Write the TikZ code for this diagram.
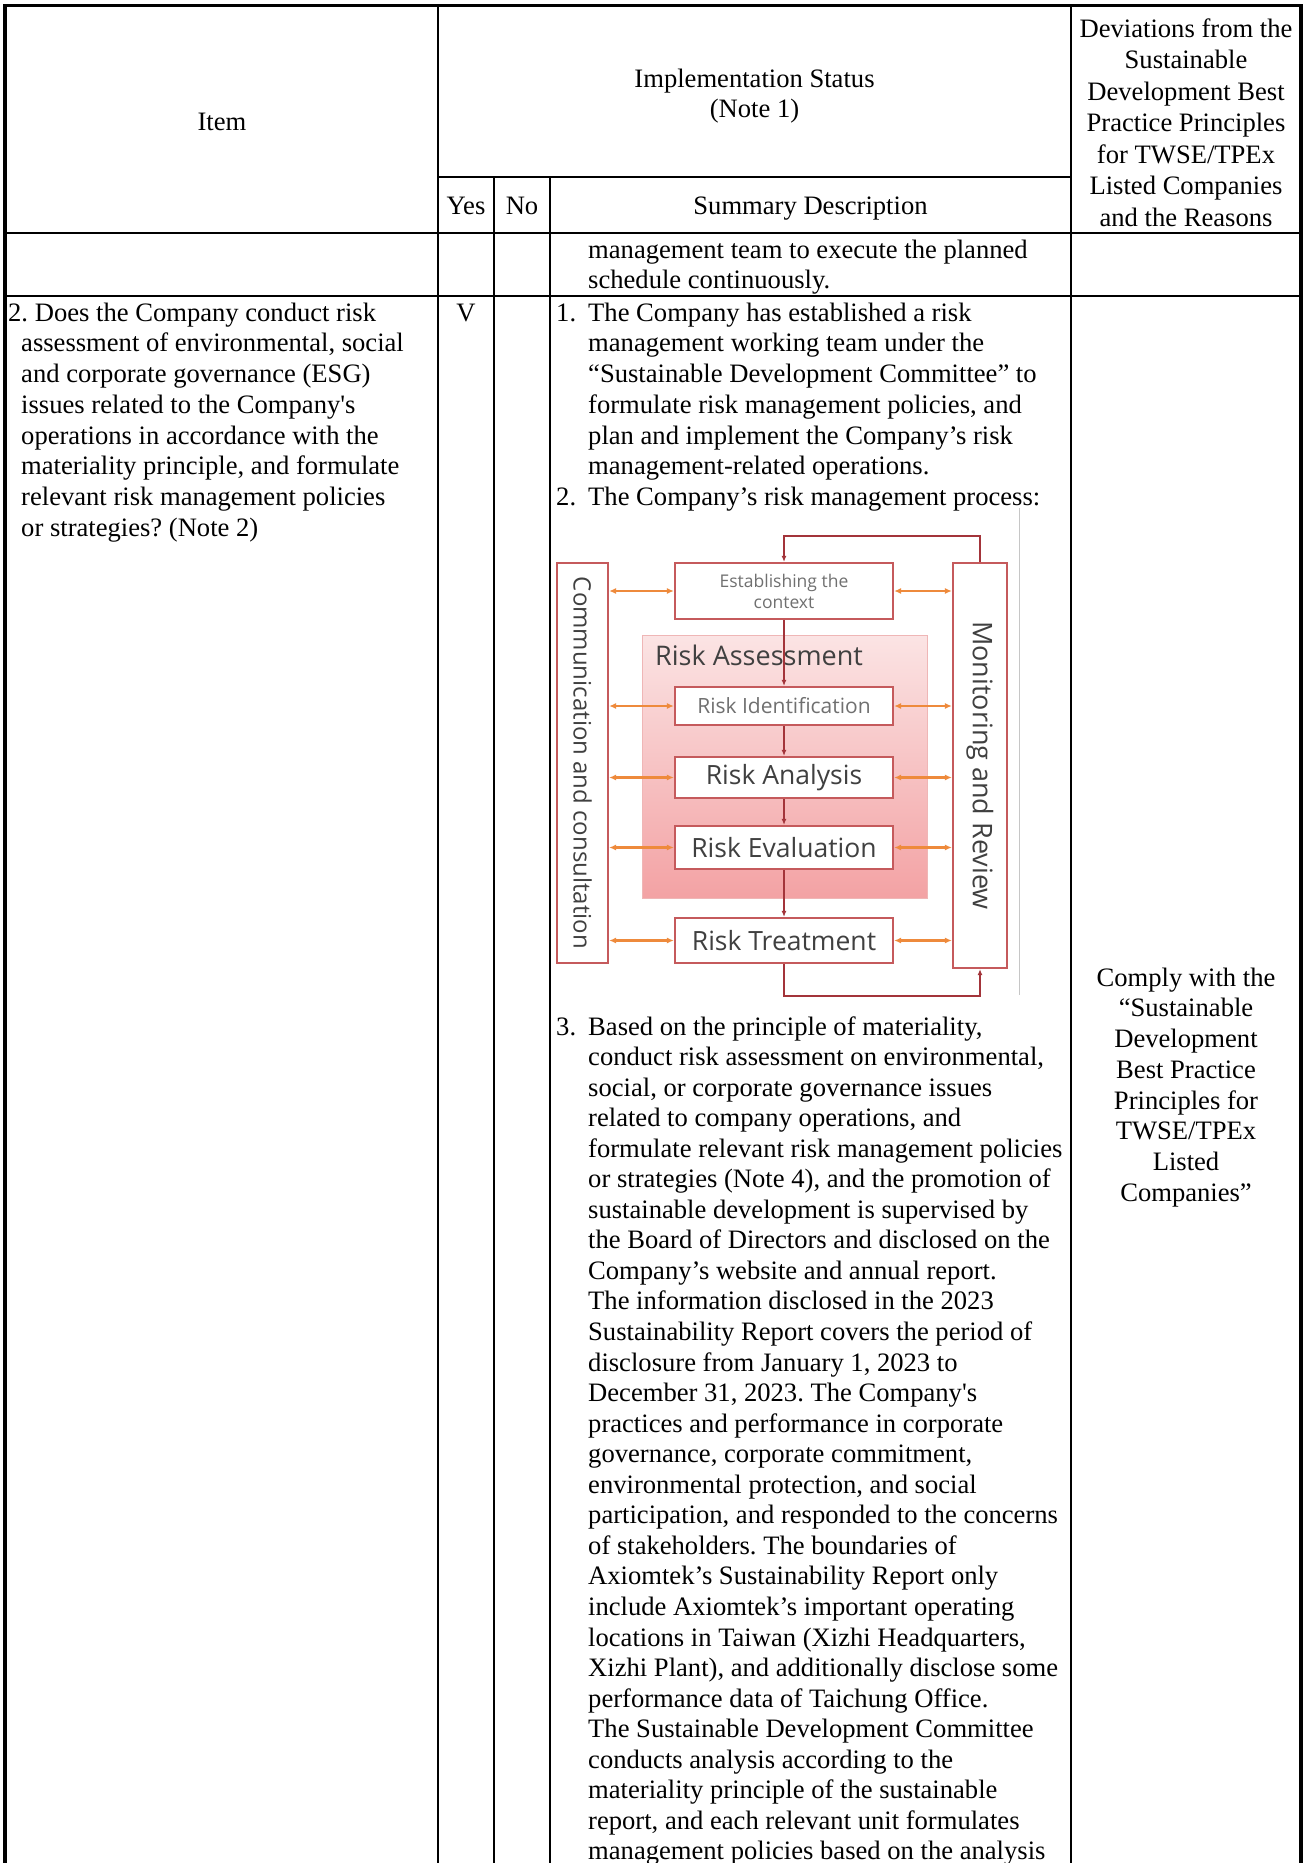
\documentclass[tikz,border=0pt]{standalone}
\usepackage{fontspec}
\setmainfont{Liberation Serif}
\newfontfamily\tabfont{Liberation Serif}
\newfontfamily\diagfont{Open Sans}
\usepackage{tikz}
\usetikzlibrary{arrows.meta, positioning}
\frenchspacing

\definecolor{boxred}{HTML}{C55A5C}
\definecolor{linkred}{HTML}{A3343A}
\definecolor{linkor}{HTML}{EE8A3C}
\definecolor{pinktop}{HTML}{FBE4E4}
\definecolor{pinkbot}{HTML}{F3A2A4}
\definecolor{pinkedge}{HTML}{EFB6B6}
\definecolor{diagtxt}{HTML}{404040}
\definecolor{diaglite}{HTML}{707070}

\begin{document}
\begin{tikzpicture}[x=1pt, y=-1pt, every node/.style={inner sep=0pt},
    rule/.style={line width=2pt},
    outer/.style={line width=3.5pt},
    txt/.style={anchor=base west, font=\tabfont\fontsize{26.6}{30.75}\selectfont\frenchspacing},
    ctxt/.style={anchor=base, font=\tabfont\fontsize{26.6}{30.75}\selectfont},
    pbox/.style={draw=boxred, line width=2.2pt, fill=white, text=diagtxt, minimum width=218pt},
    vlink/.style={draw=linkred, line width=2pt, -{Latex[length=6pt,width=5pt]}},
    olink/.style={draw=linkor, line width=2.5pt, {Latex[length=7pt,width=6pt]}-{Latex[length=7pt,width=6pt]}}]

\useasboundingbox (0,0) rectangle (1305,1863);

% table rules
\draw[outer] (5,1863) -- (5,5.5) -- (1301,5.5) -- (1301,1863);
\foreach \x in {438,1071} \draw[rule] (\x,5.5) -- (\x,1863);
\foreach \x in {494,550} \draw[rule] (\x,177) -- (\x,1863);
\draw[rule] (438,177) -- (1071,177);
\foreach \y in {233,296} \draw[rule] (5,\y) -- (1301,\y);

% header
\node[ctxt] (hItem) at (222,130) {Item};
\node[ctxt] (hImpl) at (754.5,87) {Implementation Status};
\node[ctxt] (hNote) at (754.5,117) {(Note 1)};
\node[ctxt] (hYes) at (466,214) {Yes};
\node[ctxt] (hNo) at (522,214) {No};
\node[ctxt] (hSum) at (810.5,214) {Summary Description};
\foreach \t [count=\k from 0] in {Deviations from the, Sustainable, Development Best, Practice Principles, for TWSE/TPEx, Listed Companies, and the Reasons}
    \node[ctxt] (hDev\k) at (1186,37+31.5*\k) {\t};

% row 1
\foreach \t [count=\k from 0] in {management team to execute the planned, schedule continuously.}
    \node[txt] (rowA\k) at (588,258+30.75*\k) {\t};

% row 2: item and yes
\node[txt] (item0) at (8,321) {2. Does the Company conduct risk};
\foreach \t [count=\k from 1] in {{assessment of environmental, social}, {and corporate governance (ESG)}, {issues related to the Company's}, {operations in accordance with the}, {materiality principle, and formulate}, {relevant risk management policies}, {or strategies? (Note 2)}}
    \node[txt] (item\k) at (21,321+30.75*\k) {\t};
\node[ctxt] (yesV) at (466,321) {V};

% row 2: summary
\node[txt] (num1) at (556,321) {1.};
\foreach \t [count=\k from 0] in {{The Company has established a risk}, {management working team under the}, {“Sustainable Development Committee” to}, {formulate risk management policies, and}, {plan and implement the Company’s risk}, {management-related operations.}}
    \node[txt] (sumA\k) at (588,321+30.75*\k) {\t};
\node[txt] (num2) at (556,505.5) {2.};
\node[txt] (sumB) at (588,505.5) {The Company’s risk management process:};

\node[txt] (num3) at (556,1035) {3.};
\foreach \t [count=\k from 0] in {{Based on the principle of materiality,}, {conduct risk assessment on environmental,}, {social, or corporate governance issues}, {related to company operations, and}, {formulate relevant risk management policies}, {or strategies (Note 4), and the promotion of}, {sustainable development is supervised by}, {the Board of Directors and disclosed on the}, {Company’s website and annual report.}, {The information disclosed in the 2023}, {Sustainability Report covers the period of}, {disclosure from January 1, 2023 to}, {December 31, 2023. The Company's}, {practices and performance in corporate}, {governance, corporate commitment,}, {environmental protection, and social}, {participation, and responded to the concerns}, {of stakeholders. The boundaries of}, {Axiomtek’s Sustainability Report only}, {include Axiomtek’s important operating}, {locations in Taiwan (Xizhi Headquarters,}, {Xizhi Plant), and additionally disclose some}, {performance data of Taichung Office.}, {The Sustainable Development Committee}, {conducts analysis according to the}, {materiality principle of the sustainable}, {report, and each relevant unit formulates}, {management policies based on the analysis}}
    \node[txt] (sumC\k) at (588,1035+30.55*\k) {\t};

% row 2: deviations
\foreach \t [count=\k from 0] in {Comply with the, “Sustainable, Development, Best Practice, Principles for, TWSE/TPEx, Listed, Companies”}
    \node[ctxt] (cmp\k) at (1186,986+30.75*\k) {\t};

% risk management process
\node[draw=pinkedge, line width=1pt, top color=pinktop, bottom color=pinkbot, minimum width=285pt, minimum height=263pt] (assess) at (784.5,766.5) {};
\node[anchor=base west, text=diagtxt, font=\diagfont\fontsize{27}{32}\selectfont] (assessLbl) at (655,665) {Risk Assessment};

\node[pbox, minimum height=56pt, align=center, text=diaglite, font=\diagfont\fontsize{17.5}{21}\selectfont] (est) at (784,591) {Establishing the\\context};
\node[pbox, minimum height=38pt, text=diaglite, font=\diagfont\fontsize{21}{25}\selectfont] (ident) at (784,706) {Risk Identification};
\node[pbox, minimum height=41pt, font=\diagfont\fontsize{26.5}{30}\selectfont] (anal) at (784,777.5) {Risk Analysis};
\node[pbox, minimum height=43pt, font=\diagfont\fontsize{26.5}{30}\selectfont] (eval) at (784,847.5) {Risk Evaluation};
\node[pbox, minimum height=45pt, font=\diagfont\fontsize{26.5}{30}\selectfont] (treat) at (784,940.5) {Risk Treatment};

\node[pbox, minimum width=51pt, minimum height=400pt] (comm) at (582.5,763) {};
\node[rotate=-90, text=diagtxt, font=\diagfont\fontsize{24}{28}\selectfont] (commTxt) at (comm.center) {Communication and consultation};
\node[pbox, minimum width=54pt, minimum height=405pt] (mon) at (980,765.5) {};
\node[rotate=-90, text=diagtxt, font=\diagfont\fontsize{27}{32}\selectfont] (monTxt) at (mon.center) {Monitoring and Review};

\draw[vlink] (est) -- (ident);
\draw[vlink] (ident) -- (anal);
\draw[vlink] (anal) -- (eval);
\draw[vlink] (eval) -- (treat);
\draw[vlink] (mon.north) |- ([yshift=26pt]est.north) -- (est.north);
\draw[vlink] (treat.south) |- ([yshift=-27pt]mon.south) -- (mon.south);

\foreach \n in {est,ident,anal,eval,treat} {
    \draw[olink] (comm.east |- \n.west) -- (\n.west);
    \draw[olink] (\n.east) -- (mon.west |- \n.east);
}

\draw[gray!45, line width=1pt] (1019,508) -- (1019,995);
\end{tikzpicture}
\end{document}
